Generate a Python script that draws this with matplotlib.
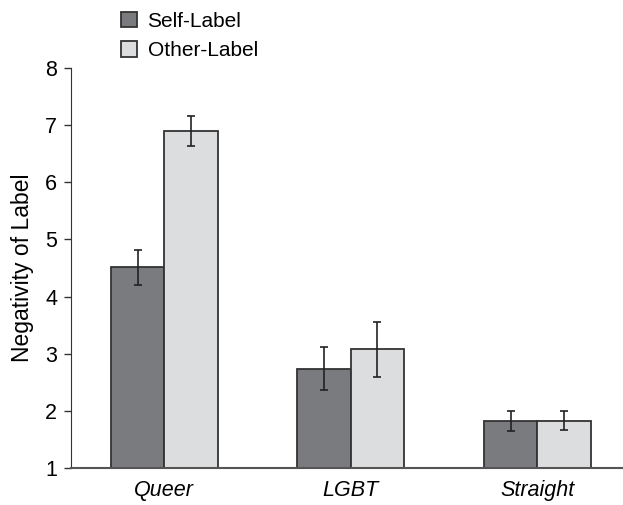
import matplotlib
matplotlib.use("Agg")
import matplotlib.pyplot as plt
import numpy as np

plt.rcParams['font.family'] = ['Liberation Sans', 'DejaVu Sans']

categories = ["Queer", "LGBT", "Straight"]
self_vals = [4.51, 2.74, 1.82]
self_err = [0.31, 0.37, 0.18]
other_vals = [6.90, 3.08, 1.83]
other_err = [0.26, 0.48, 0.16]
series_names = ["Self-Label", "Other-Label"]

fig = plt.figure(figsize=(6.23, 5.05), dpi=100)
ax = fig.add_axes([0.114, 0.0733, 0.886, 0.792])

x = np.arange(len(categories))
w = 0.286
ekw = dict(ecolor="#222222", elinewidth=1.2, capsize=3, capthick=1.2)
ax.bar(x - w/2, np.array(self_vals) - 1, w, bottom=1, color="#7a7b7f", edgecolor="#333333",
       linewidth=1.3, yerr=self_err, error_kw=ekw, label=series_names[0])
ax.bar(x + w/2, np.array(other_vals) - 1, w, bottom=1, color="#dcdddf", edgecolor="#333333",
       linewidth=1.3, yerr=other_err, error_kw=ekw, label=series_names[1])

ax.set_ylim(1, 8)
ax.set_xlim(-0.5, 2.46)
ax.set_yticks(range(1, 9))
ax.set_xticks(x)
ax.set_xticklabels(categories, fontstyle="italic", fontsize=15.5)
ax.tick_params(axis="x", length=0, pad=9)
ax.tick_params(axis="y", labelsize=15.5, length=5, width=1, color="#333333", direction="out", pad=5)
for s in ["top", "right"]:
    ax.spines[s].set_visible(False)
ax.spines["left"].set_color("#333333")
ax.spines["bottom"].set_color("#555555")
ax.spines["bottom"].set_linewidth(1.5)
ax.set_ylabel("Negativity of Label", fontsize=16.5, labelpad=8)

leg = ax.legend(loc="upper left", bbox_to_anchor=(0.065, 1.177), frameon=False, fontsize=15,
                handlelength=0.75, handleheight=0.75, handletextpad=0.5, labelspacing=0.5,
                borderpad=0.2)

fig.savefig("out.png", dpi=100)
